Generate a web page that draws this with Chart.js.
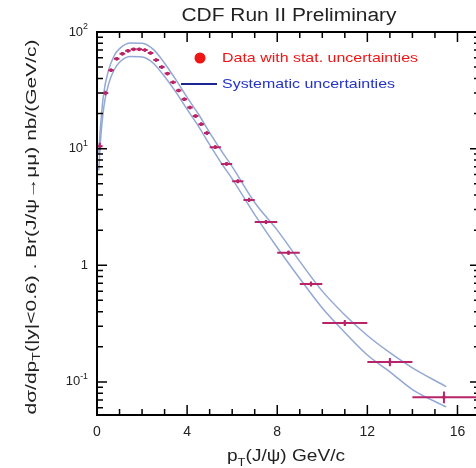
<!DOCTYPE html>
<html>
<head>
<meta charset="utf-8">
<script src="https://cdn.jsdelivr.net/npm/chart.js@4"></script>
<style>
  html, body { margin: 0; padding: 0; background: #fff; overflow: hidden; }
  #wrap { width: 484px; height: 468px; }
</style>
</head>
<body>
<div id="wrap"><canvas id="myChart" width="484" height="468"></canvas></div>
<script>
// J/psi pT bins (GeV/c) and measured cross section, nb/(GeV/c)
const binLow    = [0, 0.25, 0.5, 0.75, 1.0, 1.25, 1.5, 1.75, 2.0, 2.25, 2.5, 2.75, 3.0, 3.25, 3.5, 3.75, 4.0, 4.25, 4.5, 4.75, 5.0, 5.5, 6.0, 6.5, 7, 8, 9, 10, 12, 14];
const binHigh   = [0.25, 0.5, 0.75, 1.0, 1.25, 1.5, 1.75, 2.0, 2.25, 2.5, 2.75, 3.0, 3.25, 3.5, 3.75, 4.0, 4.25, 4.5, 4.75, 5.0, 5.5, 6.0, 6.5, 7.0, 8, 9, 10, 12, 14, 17];
const binCenter = [0.125, 0.375, 0.625, 0.875, 1.125, 1.375, 1.625, 1.875, 2.125, 2.375, 2.625, 2.875, 3.125, 3.375, 3.625, 3.875, 4.125, 4.375, 4.625, 4.875, 5.25, 5.75, 6.25, 6.75, 7.5, 8.5, 9.5, 11, 13, 15.4];
const xsec      = [10.5, 30, 47, 59, 65, 69, 71, 71, 70, 66, 57.5, 50, 44, 37, 31.5, 26.5, 22.5, 19, 16.2, 13.6, 10.3, 7.4, 5.25, 3.63, 2.35, 1.28, 0.69, 0.32, 0.148, 0.074];
const statErr   = [0.5, 0.7, 0.8, 0.9, 0.9, 0.9, 0.9, 0.9, 0.9, 0.8, 0.8, 0.7, 0.6, 0.5, 0.45, 0.4, 0.35, 0.3, 0.28, 0.25, 0.18, 0.14, 0.1, 0.08, 0.05, 0.03, 0.02, 0.012, 0.009, 0.007];

// systematic uncertainty band edges
const sysPt    = [0.08, 0.15, 0.3, 0.5, 0.75, 1.0, 1.5, 2.0, 2.5, 3.0, 3.5, 4.0, 4.5, 5.0, 5.5, 6.0, 7.0, 8.0, 9.0, 10, 11, 12, 13, 14, 15.5];
const sysUpper = [9, 15, 30, 46, 62, 72, 80.5, 80, 71, 54, 39, 27.5, 19.8, 13.7, 9.7, 7.0, 3.45, 2.0, 1.08, 0.6, 0.375, 0.25, 0.178, 0.132, 0.091];
const sysLower = [6.5, 11.3, 22.6, 35, 47, 55, 61.5, 61, 54, 41.5, 30.5, 21.7, 15.6, 10.8, 7.6, 5.5, 2.72, 1.42, 0.77, 0.43, 0.265, 0.17, 0.122, 0.086, 0.061];

// axis ticks
const xTicks = [0, 4, 8, 12, 16];
const yTicks = [0.1, 1, 10, 100];
const yTickBase = ["10", "1", "10", "10"];
const yTickExp  = ["-1", "", "1", "2"];

const FONT = '"Liberation Sans", Arial, sans-serif';

// draw a list of text runs (normal / sub / sup) at the origin,
// squeezed to a given width
function drawRuns(c, runs, size, width, align) {
  const ws = runs.map((r) => {
    c.font = (r.sub || r.sup ? size * 0.68 : size) + "px " + FONT;
    return c.measureText(r.t).width;
  });
  const total = ws.reduce((a, b) => a + b, 0);
  const sx = width ? width / total : 1;
  c.save();
  c.scale(sx, 1);
  let x = align === "left" ? 0 : align === "right" ? -total : -total / 2;
  c.textAlign = "left";
  c.textBaseline = "middle";
  runs.forEach((r, i) => {
    c.font = (r.sub || r.sup ? size * 0.68 : size) + "px " + FONT;
    let dy = 0;
    if (r.sub) dy = size * 0.35;
    if (r.sup) dy = -size * 0.38;
    c.fillText(r.t, x, dy);
    x += ws[i];
  });
  c.restore();
}

const framePlugin = {
  id: "frame",
  afterDatasetsDraw(chart) {
    const c = chart.ctx;
    const xs = chart.scales.x, ys = chart.scales.y;
    const a = chart.chartArea;
    c.save();
    c.beginPath();
    c.rect(a.left, a.top, a.right - a.left, a.bottom - a.top);
    c.clip();
    // bin width and stat error bars
    c.strokeStyle = "#b8246a";
    c.lineWidth = 2;
    for (let i = 0; i < xsec.length; i++) {
      const yp = ys.getPixelForValue(xsec[i]);
      const xp = xs.getPixelForValue(binCenter[i]);
      c.beginPath();
      c.moveTo(xs.getPixelForValue(binLow[i]), yp);
      c.lineTo(xs.getPixelForValue(binHigh[i]), yp);
      c.moveTo(xp, ys.getPixelForValue(xsec[i] + statErr[i]) - 1);
      c.lineTo(xp, ys.getPixelForValue(xsec[i] - statErr[i]) + 1);
      c.stroke();
    }
    c.restore();
  },
  afterDraw(chart) {
    const c = chart.ctx;
    const xs = chart.scales.x, ys = chart.scales.y;
    const a = chart.chartArea;
    c.save();
    c.strokeStyle = "#000";
    c.fillStyle = "#222";

    // ticks, pointing inwards on all four sides
    c.lineWidth = 1.5;
    c.beginPath();
    for (let v = 0; v <= 17; v++) {
      const px = xs.getPixelForValue(v);
      const len = v % 4 === 0 ? 10 : 6;
      c.moveTo(px, a.bottom); c.lineTo(px, a.bottom - len);
      c.moveTo(px, a.top); c.lineTo(px, a.top + len);
    }
    for (let d = -2; d <= 2; d++) {
      for (let m = 1; m <= 9; m++) {
        const v = m * Math.pow(10, d);
        if (v < ys.min || v > ys.max) continue;
        const py = ys.getPixelForValue(v);
        const len = m === 1 ? 10 : 6;
        c.moveTo(a.left, py); c.lineTo(a.left + len, py);
        c.moveTo(a.right, py); c.lineTo(a.right - len, py);
      }
    }
    c.stroke();

    // frame
    c.lineWidth = 2;
    c.strokeRect(a.left, a.top, a.right - a.left, a.bottom - a.top);

    // x tick labels
    c.font = "14px " + FONT;
    c.textAlign = "center";
    c.textBaseline = "middle";
    xTicks.forEach((v) => c.fillText(String(v), xs.getPixelForValue(v), 432));

    // y tick labels
    yTicks.forEach((v, i) => {
      const py = ys.getPixelForValue(v);
      c.save();
      c.translate(88, py);
      if (yTickExp[i]) {
        drawRuns(c, [{ t: yTickBase[i] }, { t: yTickExp[i], sup: true }], 13, null, "right");
      } else {
        drawRuns(c, [{ t: yTickBase[i] }], 13, null, "right");
      }
      c.restore();
    });

    // title
    c.save();
    c.translate(289, 16);
    drawRuns(c, [{ t: "CDF Run II Preliminary" }], 18, 215, "center");
    c.restore();

    // x axis title
    c.save();
    c.translate(286, 457);
    drawRuns(c, [{ t: "p" }, { t: "T", sub: true }, { t: "(J/\u03c8) GeV/c" }], 16, 118, "center");
    c.restore();

    // y axis title
    c.save();
    c.translate(32, 227);
    c.rotate(-Math.PI / 2);
    drawRuns(c, [
      { t: "d\u03c3/dp" }, { t: "T", sub: true },
      { t: "(|y|<0.6) . Br(J/\u03c8\u2192\u03bc\u03bc) nb/(GeV/c)" }
    ], 15, 375, "center");
    c.restore();

    // legend
    c.fillStyle = "#ee1515";
    c.beginPath();
    c.arc(200, 58, 5.5, 0, Math.PI * 2);
    c.fill();
    c.save();
    c.translate(222, 58);
    drawRuns(c, [{ t: "Data with stat. uncertainties" }], 13, 196, "left");
    c.restore();

    c.strokeStyle = "#1c2690";
    c.lineWidth = 2;
    c.beginPath();
    c.moveTo(181, 84); c.lineTo(217, 84);
    c.stroke();
    c.fillStyle = "#2433c8";
    c.save();
    c.translate(222, 84);
    drawRuns(c, [{ t: "Systematic uncertainties" }], 13, 173, "left");
    c.restore();

    c.restore();
  }
};

const ctx = document.getElementById("myChart");

new Chart(ctx, {
  type: "scatter",
  data: {
    datasets: [
      {
        type: "line",
        data: sysPt.map((x, i) => ({ x: x, y: sysUpper[i] })),
        borderColor: "#93a8d4",
        borderWidth: 1.5,
        pointRadius: 0,
        cubicInterpolationMode: "monotone",
        fill: false,
      },
      {
        type: "line",
        data: sysPt.map((x, i) => ({ x: x, y: sysLower[i] })),
        borderColor: "#93a8d4",
        borderWidth: 1.5,
        pointRadius: 0,
        cubicInterpolationMode: "monotone",
        fill: false,
      },
      {
        type: "scatter",
        data: binCenter.map((x, i) => ({ x: x, y: xsec[i] })),
        pointRadius: 1.8,
        backgroundColor: "#e0102a",
        borderWidth: 0,
      },
    ],
  },
  options: {
    responsive: false,
    animation: false,
    layout: { padding: { left: 97, top: 32, right: 3, bottom: 53 } },
    plugins: { legend: { display: false }, tooltip: { enabled: false } },
    scales: {
      x: { type: "linear", min: 0, max: 17, display: false },
      y: { type: "logarithmic", min: 0.052, max: 100, display: false },
    },
  },
  plugins: [framePlugin],
});
</script>
</body>
</html>
